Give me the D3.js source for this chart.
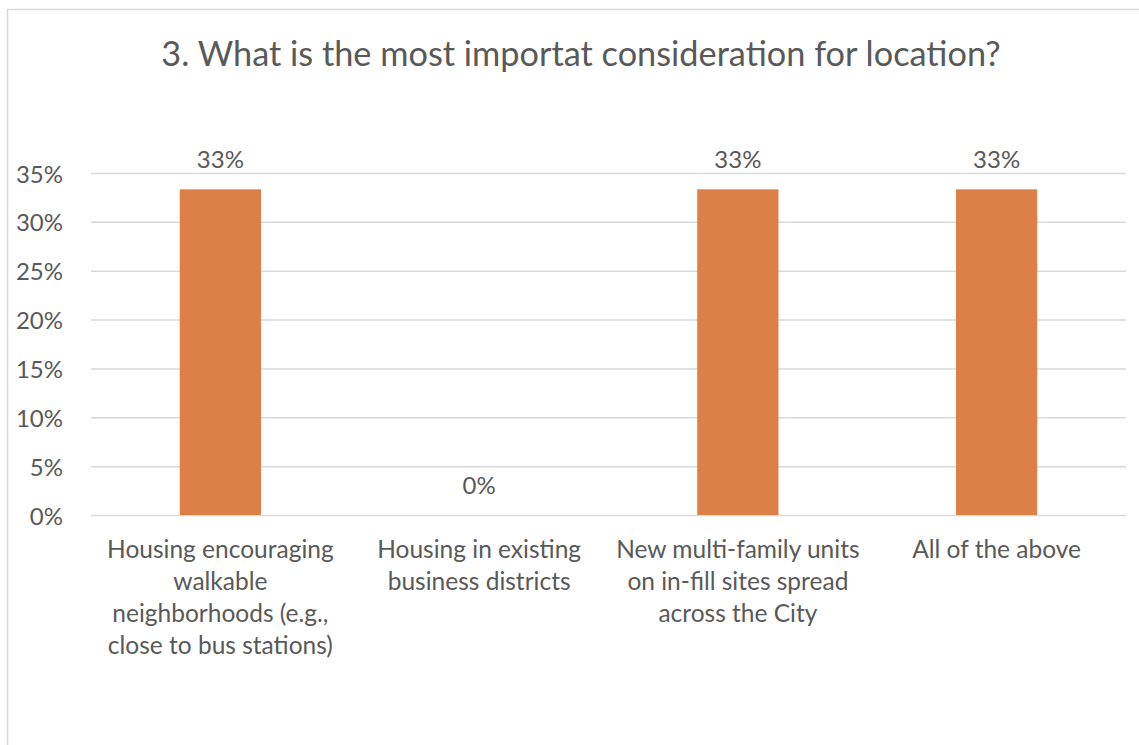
<!DOCTYPE html>
<html>
<head>
<meta charset="utf-8">
<script src="https://cdn.jsdelivr.net/npm/d3@7"></script>
<style>
  body { margin: 0; background: #fff; }
  text { font-family: Lato, "Open Sans", sans-serif; fill: #595959; }
</style>
</head>
<body>
<div id="chart"></div>
<script>
const title = "3. What is the most importat consideration for location?"
const categories = [
  ["Housing encouraging", "walkable", "neighborhoods (e.g.,", "close to bus stations)"],
  ["Housing in existing", "business districts"],
  ["New multi-family units", "on in-fill sites spread", "across the City"],
  ["All of the above"]
]
const values = [0.3333, 0, 0.3333, 0.3333]
const yTicks = [0, 0.05, 0.10, 0.15, 0.20, 0.25, 0.30, 0.35]

const width = 1139
const height = 745
const margin = {top: 173, bottom: 230, left: 91, right: 13}

const svg = d3.select('#chart').append('svg')
  .attr('width', width)
  .attr('height', height)

// chart frame
svg.append('rect')
  .attr('x', 7.5).attr('y', 9.5)
  .attr('width', width + 20).attr('height', height + 20)
  .attr('fill', '#fff')
  .attr('stroke', '#d9d9d9')
  .attr('stroke-width', 1.5)

svg.append('text')
  .attr('x', 581).attr('y', 66)
  .attr('text-anchor', 'middle')
  .style('font-size', '34.3px')
  .text(title)

const x = d3.scaleBand()
  .domain(d3.range(categories.length))
  .range([margin.left, width - margin.right])
  .paddingInner(0.686)
  .paddingOuter(0.343)

const xOuter = d3.scaleBand()
  .domain(d3.range(categories.length))
  .range([margin.left, width - margin.right])

const y = d3.scaleLinear()
  .domain([0, 0.35])
  .range([height - margin.bottom, margin.top])

const grid = svg.append('g')
  .attr('transform', `translate(${margin.left},0)`)
  .call(d3.axisLeft(y).tickValues(yTicks)
    .tickSize(-(width - margin.left - margin.right))
    .tickFormat(d3.format('.0%'))
    .tickPadding(28))

grid.select('.domain').remove()
grid.selectAll('.tick line').attr('stroke', '#d9d9d9').attr('stroke-width', 1.5)
grid.selectAll('.tick text')
  .attr('fill', '#595959')
  .attr('dy', '0.38em')
  .style('font-size', '24px')
  .style('font-family', 'Lato, sans-serif')

svg.append('g').selectAll('rect')
  .data(values)
  .join('rect')
  .attr('x', (d, i) => x(i))
  .attr('width', x.bandwidth())
  .attr('y', d => y(d))
  .attr('height', d => y(0) - y(d))
  .attr('fill', '#dd8047')

svg.append('g').selectAll('text')
  .data(values)
  .join('text')
  .attr('x', (d, i) => x(i) + x.bandwidth() / 2)
  .attr('y', d => y(d) - 21)
  .attr('text-anchor', 'middle')
  .style('font-size', '24px')
  .text(d => d3.format('.0%')(d))

const labels = svg.append('g').selectAll('text')
  .data(categories)
  .join('text')
  .attr('text-anchor', 'middle')
  .style('font-size', '24.5px')

labels.selectAll('tspan')
  .data((d, i) => d.map(line => ({line, i})))
  .join('tspan')
  .attr('x', d => xOuter(d.i) + xOuter.bandwidth() / 2)
  .attr('y', (d, j) => 558 + j * 32)
  .text(d => d.line)
</script>
</body>
</html>
